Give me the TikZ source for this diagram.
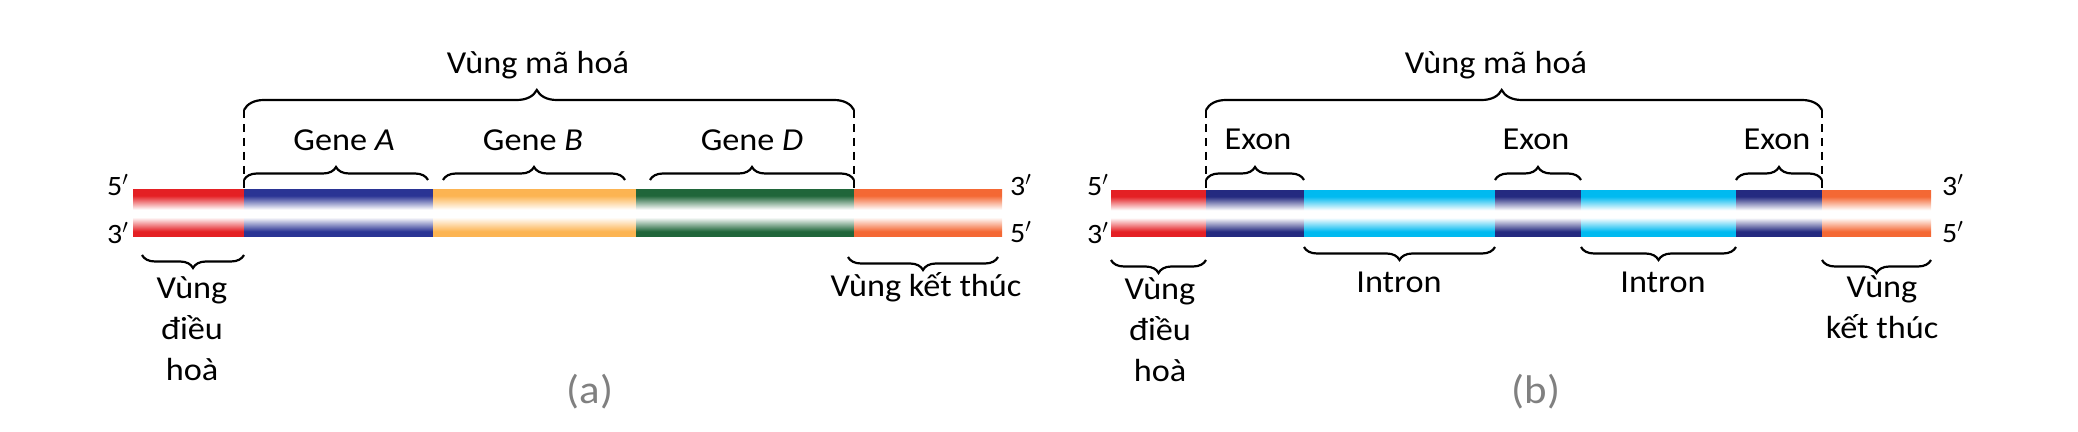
\documentclass[tikz,border=0pt]{standalone}
\usepackage{fontspec}
\setmainfont{Carlito}[FakeStretch=1.07]
\usetikzlibrary{calc}
\usetikzlibrary{decorations.pathreplacing}
\usetikzlibrary{positioning}

\definecolor{dnared}{RGB}{228,32,36}
\definecolor{dnablue}{RGB}{42,52,148}
\definecolor{dnaorange}{RGB}{252,180,82}
\definecolor{dnagreen}{RGB}{32,102,58}
\definecolor{dnacoral}{RGB}{244,104,52}
\definecolor{dnacyan}{RGB}{0,186,240}
\definecolor{dnanavy}{RGB}{36,42,128}

\colorlet{segcol}{dnared}
\pgfdeclareverticalshading[segcol]{dnaseg}{100bp}{color(0bp)=(segcol); color(31bp)=(segcol); color(46bp)=(white); color(54bp)=(white); color(69bp)=(segcol); color(100bp)=(segcol)}

\tikzset{
  seg/.style={/utils/exec={\colorlet{segcol}{#1}}, shading=dnaseg},
  lbl/.style={font=\fontsize{16}{20.5}\selectfont, inner sep=0pt},
  endlbl/.style={font=\fontsize{14}{16}\selectfont, inner sep=0pt},
  tag/.style={font=\fontsize{20}{22}\selectfont, text=black!50, inner sep=0pt},
  bigbrace/.style={decorate, decoration={brace, amplitude=10pt, aspect=0.48}, line width=1.1pt},
  smallbrace/.style={decorate, decoration={brace, amplitude=6.5pt}, line width=1.1pt},
  lowbrace/.style={decorate, decoration={brace, mirror, amplitude=6.5pt}, line width=1.1pt},
  guide/.style={line width=0.7pt, dash pattern=on 4pt off 3pt}
}

\begin{document}
\begin{tikzpicture}[x=0.5pt,y=-0.5pt]
    \useasboundingbox (0,0) rectangle (2078,432);

    % (a) gene cluster
    \foreach \n/\x in {0/133,1/244,2/433,3/636,4/854,5/1002}{
      \coordinate (a\n) at (\x,190);
      \coordinate (ab\n) at (\x,237);
    }
    \foreach \i/\j/\c in {0/1/dnared,1/2/dnablue,2/3/dnaorange,3/4/dnagreen,4/5/dnacoral}
      \shade[seg=\c] (a\i) rectangle (ab\j);

    \node[endlbl, anchor=base] (a5top) at (118,196) {5$'$};
    \node[endlbl, anchor=base] (a3bot) at (118,244) {3$'$};
    \node[endlbl, anchor=base] (a3top) at (1021,196) {3$'$};
    \node[endlbl, anchor=base] (a5bot) at (1021,243) {5$'$};

    \draw[guide] ($(a1)+(0,-80)$) -- (a1);
    \draw[guide] ($(a4)+(0,-80)$) -- (a4);
    \draw[bigbrace] ($(a1)+(0,-80)$) -- ($(a4)+(0,-80)$);
    \node[lbl, anchor=base] (codea) at (538,74) {Vùng mã hoá};

    \draw[smallbrace] ($(a1)+(0,-10)$) -- ($(a2)+(-5,-10)$);
    \draw[smallbrace] ($(a2)+(10,-10)$) -- ($(a3)+(-11,-10)$);
    \draw[smallbrace] ($(a3)+(14,-10)$) -- ($(a4)+(0,-10)$);
    \node[lbl, anchor=base] (genea) at (344,151) {Gene \textit{A}};
    \node[lbl, anchor=base] (geneb) at (533,151) {Gene \textit{B}};
    \node[lbl, anchor=base] (gened) at (752,151) {Gene \textit{D}};

    \draw[lowbrace] ($(ab0)+(9,18)$) -- ($(ab1)+(0,18)$);
    \draw[lowbrace] ($(ab4)+(-6,20)$) -- ($(ab5)+(-4,20)$);
    \node[lbl, align=center, anchor=north] (rega) at (192,276) {Vùng\\điều\\hoà};
    \node[lbl, anchor=base] (terma) at (926,297) {Vùng kết thúc};

    \node[tag, anchor=base] (capa) at (590,404) {(a)};

    % (b) split gene
    \foreach \n/\x in {0/1111,1/1206,2/1304,3/1495,4/1581,5/1736,6/1822,7/1931}{
      \coordinate (b\n) at (\x,191);
      \coordinate (bb\n) at (\x,237);
    }
    \foreach \i/\j/\c in {0/1/dnared,1/2/dnanavy,2/3/dnacyan,3/4/dnanavy,4/5/dnacyan,5/6/dnanavy,6/7/dnacoral}
      \shade[seg=\c] (b\i) rectangle (bb\j);

    \node[endlbl, anchor=base] (b5top) at (1098,196) {5$'$};
    \node[endlbl, anchor=base] (b3bot) at (1098,244) {3$'$};
    \node[endlbl, anchor=base] (b3top) at (1953,196) {3$'$};
    \node[endlbl, anchor=base] (b5bot) at (1953,243) {5$'$};

    \draw[guide] ($(b1)+(0,-81)$) -- (b1);
    \draw[guide] ($(b6)+(0,-81)$) -- (b6);
    \draw[bigbrace] ($(b1)+(0,-81)$) -- ($(b6)+(0,-81)$);
    \node[lbl, anchor=base] (codeb) at (1496,74) {Vùng mã hoá};

    \foreach \i/\j in {1/2,3/4,5/6}
      \draw[smallbrace] ($(b\i)+(0,-11)$) -- ($(b\j)+(0,-11)$);
    \node[lbl, anchor=base] (exon1) at (1258,150) {Exon};
    \node[lbl, anchor=base] (exon2) at (1536,150) {Exon};
    \node[lbl, anchor=base] (exon3) at (1777,150) {Exon};

    \foreach \i/\j in {2/3,4/5}
      \draw[lowbrace] ($(bb\i)+(0,10)$) -- ($(bb\j)+(0,10)$);
    \node[lbl, anchor=base] (intron1) at (1399,293) {Intron};
    \node[lbl, anchor=base] (intron2) at (1663,293) {Intron};

    \draw[lowbrace] ($(bb0)+(0,23)$) -- ($(bb1)+(0,23)$);
    \draw[lowbrace] ($(bb6)+(0,23)$) -- ($(bb7)+(0,23)$);
    \node[lbl, align=center, anchor=north] (regb) at (1160,277) {Vùng\\điều\\hoà};
    \node[lbl, align=center, anchor=north] (termb) at (1882,275) {Vùng\\kết thúc};

    \node[tag, anchor=base] (capb) at (1536,404) {(b)};
  \end{tikzpicture}
\end{document}
